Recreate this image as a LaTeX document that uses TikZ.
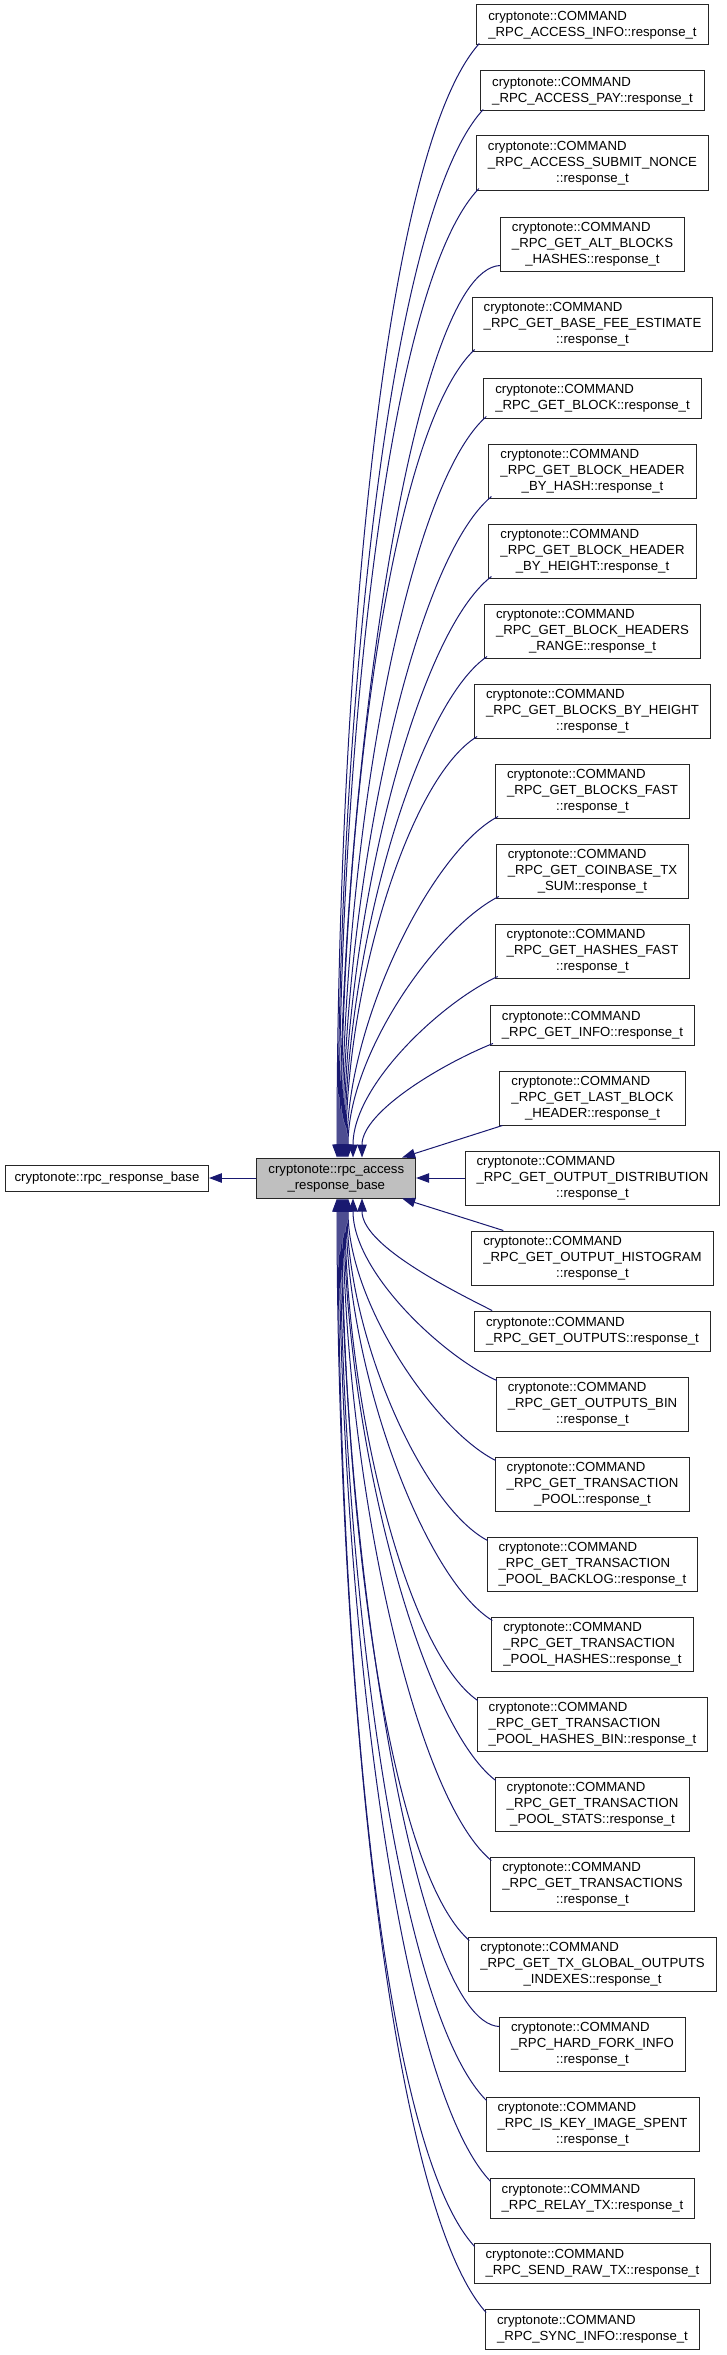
\documentclass[tikz,border=0pt]{standalone}
\usepackage{fontspec}
\setmainfont{Liberation Sans}
\usetikzlibrary{arrows.meta}
\definecolor{edgeblue}{RGB}{25,25,112}
\definecolor{basegray}{RGB}{191,191,191}
\newcommand\CC{cryptonote::COMMAND}
\newcommand\tlbl[3]{\begin{tabular}{@{}l@{}}#1\\#2\\\multicolumn{1}{@{}c@{}}{#3}\end{tabular}}
\newcommand\dlbl[2]{\begin{tabular}{@{}l@{}}#1\\\multicolumn{1}{@{}c@{}}{#2}\end{tabular}}
\tikzset{
  cls/.style={draw=black!85, line width=1pt, fill=white, inner xsep=11.5pt, inner ysep=0pt,
    font=\fontsize{13.2}{16}\selectfont},
  twoline/.style={cls, minimum height=40pt},
  threeline/.style={cls, minimum height=54pt},
  edge/.style={draw=edgeblue, line width=1pt, -{Triangle[length=13pt,width=9.5pt]}},
}
\begin{document}
\begin{tikzpicture}[x=1pt,y=-1pt]
\useasboundingbox (0,0) rectangle (727,2355);
% base classes
\node[cls, minimum height=26pt, inner xsep=9pt] (base) at (107,1178) {cryptonote::rpc\_response\_base};
\node[twoline, fill=basegray] (acc) at (336.3,1178) {\dlbl{cryptonote::rpc\_access}{\_response\_base}};
% derived classes
\node[twoline]   (c1)  at (592.5,25)   {\dlbl{\CC}{\_RPC\_ACCESS\_INFO::response\_t}};
\node[twoline]   (c2)  at (592.5,91)   {\dlbl{\CC}{\_RPC\_ACCESS\_PAY::response\_t}};
\node[threeline] (c3)  at (592.5,163)  {\tlbl{\CC}{\_RPC\_ACCESS\_SUBMIT\_NONCE}{::response\_t}};
\node[threeline] (c4)  at (592.5,244)  {\tlbl{\CC}{\_RPC\_GET\_ALT\_BLOCKS}{\_HASHES::response\_t}};
\node[threeline] (c5)  at (592.5,324)  {\tlbl{\CC}{\_RPC\_GET\_BASE\_FEE\_ESTIMATE}{::response\_t}};
\node[twoline]   (c6)  at (592.5,398)  {\dlbl{\CC}{\_RPC\_GET\_BLOCK::response\_t}};
\node[threeline] (c7)  at (592.5,471)  {\tlbl{\CC}{\_RPC\_GET\_BLOCK\_HEADER}{\_BY\_HASH::response\_t}};
\node[threeline] (c8)  at (592.5,551)  {\tlbl{\CC}{\_RPC\_GET\_BLOCK\_HEADER}{\_BY\_HEIGHT::response\_t}};
\node[threeline] (c9)  at (592.5,631)  {\tlbl{\CC}{\_RPC\_GET\_BLOCK\_HEADERS}{\_RANGE::response\_t}};
\node[threeline] (c10) at (592.5,711)  {\tlbl{\CC}{\_RPC\_GET\_BLOCKS\_BY\_HEIGHT}{::response\_t}};
\node[threeline] (c11) at (592.5,791)  {\tlbl{\CC}{\_RPC\_GET\_BLOCKS\_FAST}{::response\_t}};
\node[threeline] (c12) at (592.5,871)  {\tlbl{\CC}{\_RPC\_GET\_COINBASE\_TX}{\_SUM::response\_t}};
\node[threeline] (c13) at (592.5,951)  {\tlbl{\CC}{\_RPC\_GET\_HASHES\_FAST}{::response\_t}};
\node[twoline]   (c14) at (592.5,1025) {\dlbl{\CC}{\_RPC\_GET\_INFO::response\_t}};
\node[threeline] (c15) at (592.5,1098) {\tlbl{\CC}{\_RPC\_GET\_LAST\_BLOCK}{\_HEADER::response\_t}};
\node[threeline] (c16) at (592.5,1178) {\tlbl{\CC}{\_RPC\_GET\_OUTPUT\_DISTRIBUTION}{::response\_t}};
\node[threeline] (c17) at (592.5,1258) {\tlbl{\CC}{\_RPC\_GET\_OUTPUT\_HISTOGRAM}{::response\_t}};
\node[twoline]   (c18) at (592.5,1331) {\dlbl{\CC}{\_RPC\_GET\_OUTPUTS::response\_t}};
\node[threeline] (c19) at (592.5,1404) {\tlbl{\CC}{\_RPC\_GET\_OUTPUTS\_BIN}{::response\_t}};
\node[threeline] (c20) at (592.5,1484) {\tlbl{\CC}{\_RPC\_GET\_TRANSACTION}{\_POOL::response\_t}};
\node[threeline] (c21) at (592.5,1564) {\tlbl{\CC}{\_RPC\_GET\_TRANSACTION}{\_POOL\_BACKLOG::response\_t}};
\node[threeline] (c22) at (592.5,1644) {\tlbl{\CC}{\_RPC\_GET\_TRANSACTION}{\_POOL\_HASHES::response\_t}};
\node[threeline] (c23) at (592.5,1724) {\tlbl{\CC}{\_RPC\_GET\_TRANSACTION}{\_POOL\_HASHES\_BIN::response\_t}};
\node[threeline] (c24) at (592.5,1804) {\tlbl{\CC}{\_RPC\_GET\_TRANSACTION}{\_POOL\_STATS::response\_t}};
\node[threeline] (c25) at (592.5,1884) {\tlbl{\CC}{\_RPC\_GET\_TRANSACTIONS}{::response\_t}};
\node[threeline] (c26) at (592.5,1964) {\tlbl{\CC}{\_RPC\_GET\_TX\_GLOBAL\_OUTPUTS}{\_INDEXES::response\_t}};
\node[threeline] (c27) at (592.5,2044) {\tlbl{\CC}{\_RPC\_HARD\_FORK\_INFO}{::response\_t}};
\node[threeline] (c28) at (592.5,2124) {\tlbl{\CC}{\_RPC\_IS\_KEY\_IMAGE\_SPENT}{::response\_t}};
\node[twoline]   (c29) at (592.5,2198) {\dlbl{\CC}{\_RPC\_RELAY\_TX::response\_t}};
\node[twoline]   (c30) at (592.5,2263) {\dlbl{\CC}{\_RPC\_SEND\_RAW\_TX::response\_t}};
\node[twoline]   (c31) at (592.5,2329) {\dlbl{\CC}{\_RPC\_SYNC\_INFO::response\_t}};
% inheritance edges
\draw[edge] (acc.west) -- (base.east);
\draw[edge] ([xshift=3pt,yshift=2pt]c1.south west)  .. controls +(-100.2,111.5) and +(0,-446)   .. ([xshift=0.7pt]acc.north);
\draw[edge] ([xshift=3pt,yshift=2pt]c2.south west)  .. controls +(-97.2,104.9)  and +(0,-419.6) .. ([xshift=1.7pt]acc.north);
\draw[edge] ([xshift=3pt,yshift=2pt]c3.south west)  .. controls +(-93.7,97)     and +(0,-388)   .. ([xshift=2.7pt]acc.north);
\draw[edge] ([yshift=6pt]c4.south west)             .. controls +(-90,5)        and +(0,-357.2) .. ([xshift=3.7pt]acc.north);
\draw[edge] ([xshift=3pt,yshift=2pt]c5.south west)  .. controls +(-86.4,80.9)   and +(0,-323.6) .. ([xshift=4.7pt]acc.north);
\draw[edge] ([xshift=3pt,yshift=2pt]c6.south west)  .. controls +(-83.4,74.2)   and +(0,-296.8) .. ([xshift=5.7pt]acc.north);
\draw[edge] ([xshift=3pt,yshift=2pt]c7.south west)  .. controls +(-79.8,66.2)   and +(0,-264.8) .. ([xshift=6.7pt]acc.north);
\draw[edge] ([xshift=3pt,yshift=2pt]c8.south west)  .. controls +(-76.2,58.2)   and +(0,-232.8) .. ([xshift=7.7pt]acc.north);
\draw[edge] ([xshift=3pt,yshift=2pt]c9.south west)  .. controls +(-72.6,50.2)   and +(0,-200.8) .. ([xshift=8.7pt]acc.north);
\draw[edge] ([xshift=3pt,yshift=2pt]c10.south west) .. controls +(-69,42.2)     and +(0,-168.8) .. ([xshift=9.7pt]acc.north);
\draw[edge] ([xshift=3pt,yshift=2pt]c11.south west) .. controls +(-65.4,34.2)   and +(0,-136.8) .. ([xshift=10.7pt]acc.north);
\draw[edge] ([xshift=3pt,yshift=2pt]c12.south west) .. controls +(-60,30)       and +(0,-104.8) .. ([xshift=11.7pt]acc.north);
\draw[edge] ([xshift=3pt,yshift=2pt]c13.south west) .. controls +(-55,25)       and +(0,-72.8)  .. ([xshift=16.7pt]acc.north);
\draw[edge] ([xshift=3pt,yshift=2pt]c14.south west) .. controls +(-50,20)       and +(0,-46)    .. ([xshift=25.7pt]acc.north);
\draw[edge] ([xshift=3pt]c15.south west) -- ([xshift=-14pt]acc.north east);
\draw[edge] (c16.west) -- (acc.east);
\draw[edge] ([xshift=32pt]c17.north west) -- ([xshift=-14pt]acc.south east);
\draw[edge] ([xshift=18pt]c18.north west)            .. controls +(-50,-25)      and +(0,45.2)  .. ([xshift=25.7pt]acc.south);
\draw[edge] ([xshift=1pt,yshift=-4pt]c19.north west) .. controls +(-55,-25)      and +(0,73.2)  .. ([xshift=16.7pt]acc.south);
\draw[edge] ([xshift=1pt,yshift=-4pt]c20.north west) .. controls +(-60,-30)      and +(0,105.2) .. ([xshift=11.7pt]acc.south);
\draw[edge] ([xshift=1pt,yshift=-4pt]c21.north west) .. controls +(-65.4,-34.3)  and +(0,137.2) .. ([xshift=10.7pt]acc.south);
\draw[edge] ([xshift=1pt,yshift=-4pt]c22.north west) .. controls +(-69,-42.3)    and +(0,169.2) .. ([xshift=9.7pt]acc.south);
\draw[edge] ([xshift=1pt,yshift=-4pt]c23.north west) .. controls +(-72.6,-50.3)  and +(0,201.2) .. ([xshift=8.7pt]acc.south);
\draw[edge] ([xshift=1pt,yshift=-4pt]c24.north west) .. controls +(-76.2,-58.3)  and +(0,233.2) .. ([xshift=7.7pt]acc.south);
\draw[edge] ([xshift=1pt,yshift=-4pt]c25.north west) .. controls +(-79.8,-66.3)  and +(0,265.2) .. ([xshift=6.7pt]acc.south);
\draw[edge] ([xshift=1pt,yshift=-4pt]c26.north west) .. controls +(-83.4,-74.3)  and +(0,297.2) .. ([xshift=5.7pt]acc.south);
\draw[edge] ([yshift=-10pt]c27.north west)           .. controls +(-87,-5)       and +(0,331.6) .. ([xshift=4.7pt]acc.south);
\draw[edge] ([xshift=1pt,yshift=-4pt]c28.north west) .. controls +(-90.6,-90.3)  and +(0,361.2) .. ([xshift=3.7pt]acc.south);
\draw[edge] ([xshift=1pt,yshift=-4pt]c29.north west) .. controls +(-94.3,-98.4)  and +(0,393.6) .. ([xshift=2.7pt]acc.south);
\draw[edge] ([xshift=1pt,yshift=-4pt]c30.north west) .. controls +(-97.2,-104.9) and +(0,419.6) .. ([xshift=1.7pt]acc.south);
\draw[edge] ([xshift=1pt,yshift=-4pt]c31.north west) .. controls +(-100.2,-111.5) and +(0,446)  .. ([xshift=0.7pt]acc.south);
\end{tikzpicture}
\end{document}
